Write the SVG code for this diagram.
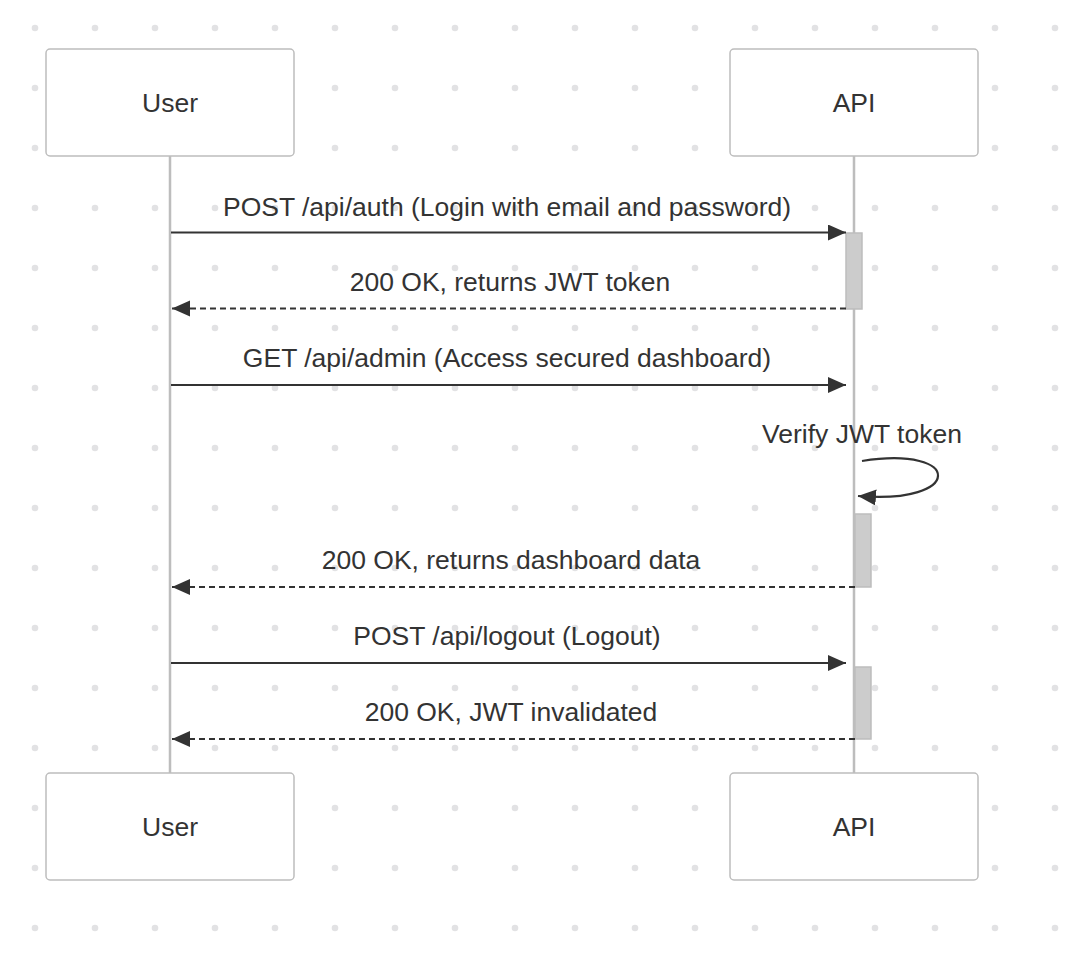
<svg xmlns="http://www.w3.org/2000/svg" width="1080" height="954" viewBox="0 0 1080 954">
<style>
.bg{fill:#ffffff}
.actor rect{fill:#ffffff;stroke:#bdbdbd;stroke-width:1.5}
.actor text,.msg{font-family:"Liberation Sans",Arial,Helvetica,sans-serif;font-size:26.5px;fill:#333333;text-anchor:middle}
.life{stroke:#bdbdbd;stroke-width:2.5}
.act{fill:#cccccc;stroke:#bdbdbd;stroke-width:1.5}
.solid{stroke:#333333;stroke-width:2.2;fill:none}
.dash{stroke:#333333;stroke-width:2.2;fill:none;stroke-dasharray:6 4}
</style>
<defs>
<pattern id="dots" x="5" y="-2" width="60" height="60" patternUnits="userSpaceOnUse">
<circle cx="30" cy="30" r="3.3" fill="#e2e2e4"/>
</pattern>
<marker id="arrow" markerUnits="userSpaceOnUse" markerWidth="19" markerHeight="17" refX="18" refY="8" orient="auto">
<path d="M0,0 L18,8 L0,16 z" fill="#333333"/>
</marker>
</defs>
<rect class="bg" x="0" y="0" width="1080" height="954"/>
<rect x="0" y="0" width="1080" height="954" fill="url(#dots)"/>
<g id="lifelines">
<line class="life" x1="170" y1="156" x2="170" y2="773"/>
<line class="life" x1="854" y1="156" x2="854" y2="773"/>
</g>
<g id="activations">
<rect class="act" x="846" y="233" width="16" height="76"/>
<rect class="act" x="855" y="514" width="16" height="73"/>
<rect class="act" x="855" y="667" width="16" height="72"/>
</g>
<g id="actor-user-top" class="actor">
<rect x="46" y="49" width="248" height="107" rx="4"/>
<text x="170" y="112">User</text>
</g>
<g id="actor-api-top" class="actor">
<rect x="730" y="49" width="248" height="107" rx="4"/>
<text x="854" y="112">API</text>
</g>
<g id="actor-user-bottom" class="actor">
<rect x="46" y="773" width="248" height="107" rx="4"/>
<text x="170" y="836">User</text>
</g>
<g id="actor-api-bottom" class="actor">
<rect x="730" y="773" width="248" height="107" rx="4"/>
<text x="854" y="836">API</text>
</g>
<g id="connectors">
<line class="solid" x1="171" y1="232.5" x2="846" y2="232.5" marker-end="url(#arrow)"/>
<line class="dash" x1="846" y1="308.5" x2="172" y2="308.5" marker-end="url(#arrow)"/>
<line class="solid" x1="171" y1="385" x2="846" y2="385" marker-end="url(#arrow)"/>
<path class="solid" d="M862,461 C964,445 964,505 858,496" marker-end="url(#arrow)"/>
<line class="dash" x1="855" y1="587" x2="172" y2="587" marker-end="url(#arrow)"/>
<line class="solid" x1="171" y1="663" x2="846" y2="663" marker-end="url(#arrow)"/>
<line class="dash" x1="855" y1="739" x2="172" y2="739" marker-end="url(#arrow)"/>
</g>
<g id="labels">
<text class="msg" x="507" y="216">POST /api/auth (Login with email and password)</text>
<text class="msg" x="510" y="291">200 OK, returns JWT token</text>
<text class="msg" x="507" y="367">GET /api/admin (Access secured dashboard)</text>
<text class="msg" x="862" y="443">Verify JWT token</text>
<text class="msg" x="511" y="569">200 OK, returns dashboard data</text>
<text class="msg" x="507" y="645">POST /api/logout (Logout)</text>
<text class="msg" x="511" y="721">200 OK, JWT invalidated</text>
</g>
</svg>
